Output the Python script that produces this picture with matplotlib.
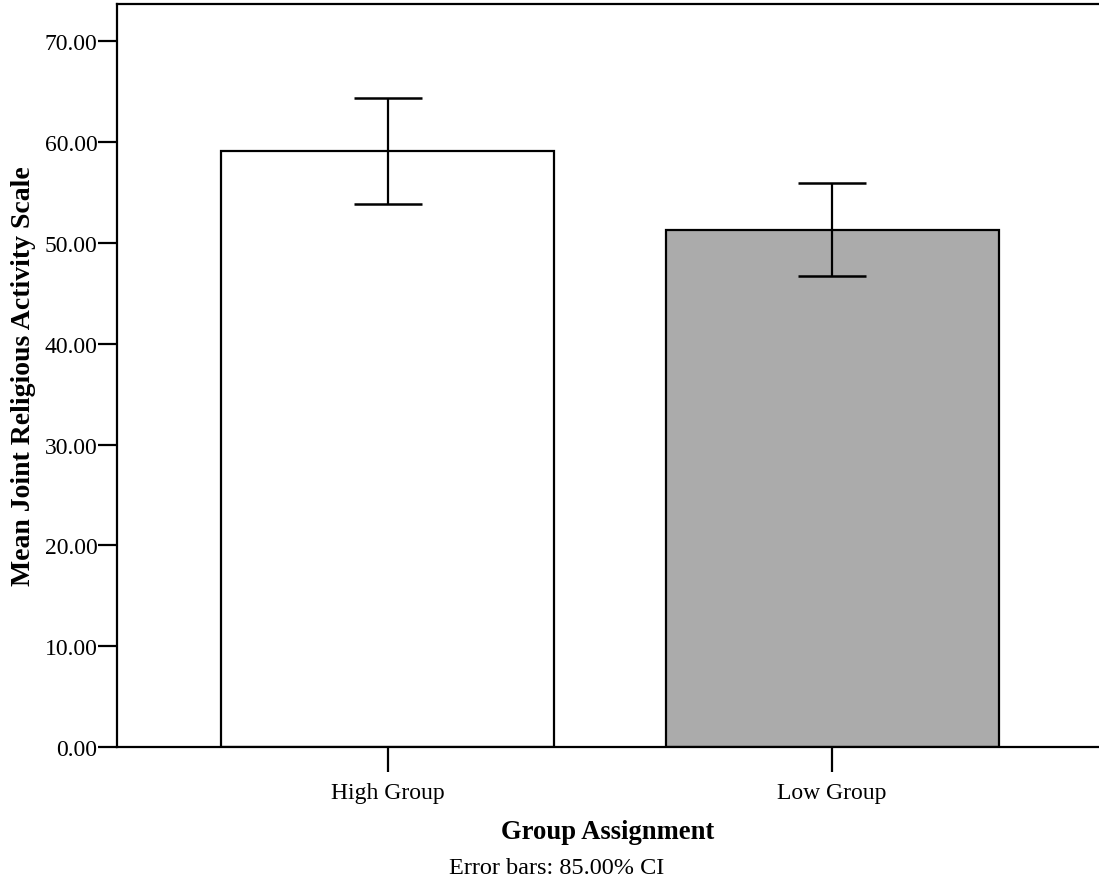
import matplotlib
matplotlib.use("Agg")
import matplotlib.pyplot as plt
import numpy as np

categories = ["High Group", "Low Group"]
means = [59.15, 51.3]
ci_lower = [53.85, 46.75]
ci_upper = [64.4, 55.9]
bar_colors = ["white", "#ababab"]
yticks = [0, 10, 20, 30, 40, 50, 60, 70]

plt.rcParams['font.family'] = ['Liberation Serif', 'DejaVu Serif']

fig = plt.figure(figsize=(10.99, 8.87), dpi=100)
ax = fig.add_axes([117/1099, 1-748/887, 1-117/1099, (748-5)/887])

x = np.arange(len(categories))
ax.bar(x, means, width=0.75, color=bar_colors, edgecolor="black", linewidth=1.6, zorder=2)
yerr = np.array([[m - l for m, l in zip(means, ci_lower)],
                 [u - m for m, u in zip(means, ci_upper)]])
ax.errorbar(x, means, yerr=yerr, fmt="none", ecolor="black", elinewidth=1.6,
            capsize=24.5, capthick=1.8, zorder=3)

ax.set_xlim(-0.61, 1.601)
ax.set_ylim(0, 73.7)
ax.set_yticks(yticks)
ax.set_yticklabels([f"{v:.2f}" for v in yticks], fontsize=17)
ax.set_xticks(x)
ax.set_xticklabels(categories, fontsize=17)
ax.tick_params(axis="y", direction="out", length=14, width=1.6, pad=0, colors="black")
ax.tick_params(axis="x", direction="out", length=18, width=1.6, pad=7, colors="black")

for s in ["left", "bottom", "top"]:
    ax.spines[s].set_linewidth(1.6)
    ax.spines[s].set_color("black")
ax.spines["right"].set_visible(False)

ax.set_ylabel("Mean Joint Religious Activity Scale", fontsize=20, fontweight="bold", labelpad=6)
ax.set_xlabel("Group Assignment", fontsize=19.2, fontweight="bold", labelpad=12)
fig.text(557/1099, 1-869/887, "Error bars: 85.00% CI", ha="center", va="center", fontsize=17.5)

fig.savefig("out.png", dpi=100)
